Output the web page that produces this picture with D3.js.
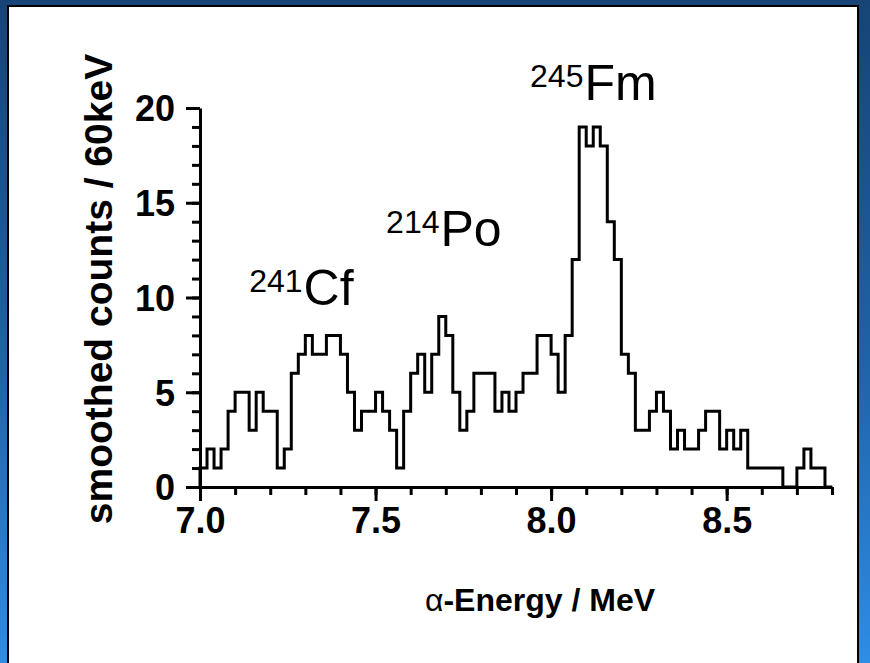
<!DOCTYPE html>
<html>
<head>
<meta charset="utf-8">
<script src="https://cdn.jsdelivr.net/npm/d3@7"></script>
<style>
  html, body { margin: 0; padding: 0; }
  body { width: 870px; height: 663px; overflow: hidden; }
  svg { display: block; }
</style>
</head>
<body>
<div id="chart"></div>
<script>
// histogram: 20 keV bins starting at 7.00 MeV, smoothed counts per 60 keV
const binStart = 7.0;
const binWidth = 0.02;
const counts = [
  1, 2, 1, 2, 4, 5, 5, 3, 5, 4,
  4, 1, 2, 6, 7, 8, 7, 7, 8, 8,
  7, 5, 3, 4, 4, 5, 4, 3, 1, 4,
  6, 7, 5, 7, 9, 8, 5, 3, 4, 6,
  6, 6, 4, 5, 4, 5, 6, 6, 8, 8,
  7, 5, 8, 12, 19, 18, 19, 18, 14, 12,
  7, 6, 3, 3, 4, 5, 4, 2, 3, 2,
  2, 3, 4, 4, 2, 3, 2, 3, 1, 1,
  1, 1, 1, 0, 0, 1, 2, 1, 1, 0
];
const xMajorTicks = [7.0, 7.5, 8.0, 8.5];
const yMajorTicks = [0, 5, 10, 15, 20];
const peakLabels = [
  { mass: "241", name: "Cf", e: 7.14, v: 9.6 },
  { mass: "214", name: "Po", e: 7.53, v: 12.7 },
  { mass: "245", name: "Fm", e: 7.94, v: 20.4 }
];

const width = 870, height = 663;
const font = "'Liberation Sans', Arial, Helvetica, sans-serif";

const svg = d3.select("#chart").append("svg")
    .attr("width", width)
    .attr("height", height);

// blue frame behind the white slide panel
const defs = svg.append("defs");
const grad = defs.append("linearGradient")
    .attr("id", "frame")
    .attr("x1", 0).attr("y1", 0).attr("x2", 0).attr("y2", 1);
grad.append("stop").attr("offset", "0%").attr("stop-color", "#164476");
grad.append("stop").attr("offset", "55%").attr("stop-color", "#1f63a8");
grad.append("stop").attr("offset", "100%").attr("stop-color", "#2e8de6");

svg.append("rect")
    .attr("width", width).attr("height", height)
    .attr("fill", "url(#frame)");

svg.append("rect")
    .attr("x", 8).attr("y", 6)
    .attr("width", 850).attr("height", 670)
    .attr("fill", "#fff")
    .attr("stroke", "#000")
    .attr("stroke-width", 2);

const x = d3.scaleLinear().domain([7.0, 8.8]).range([200, 832]);
const y = d3.scaleLinear().domain([0, 20]).range([487, 108]);

const g = svg.append("g");

// minor ticks
g.append("g")
    .attr("transform", `translate(0,${y(0)})`)
    .call(d3.axisBottom(x).ticks(18).tickSize(8).tickSizeOuter(0).tickFormat(""))
    .call(a => a.select(".domain").remove());
g.append("g")
    .attr("transform", `translate(${x(7.0)},0)`)
    .call(d3.axisLeft(y).ticks(20).tickSize(8).tickSizeOuter(0).tickFormat(""))
    .call(a => a.select(".domain").remove());

// major ticks + labels
const xAxis = g.append("g")
    .attr("transform", `translate(0,${y(0)})`)
    .call(d3.axisBottom(x).tickValues(xMajorTicks).tickSize(14).tickSizeOuter(0)
        .tickPadding(6).tickFormat(d3.format(".1f")));
const yAxis = g.append("g")
    .attr("transform", `translate(${x(7.0)},0)`)
    .call(d3.axisLeft(y).tickValues(yMajorTicks).tickSize(14).tickSizeOuter(0)
        .tickPadding(11));

g.selectAll(".tick line").attr("stroke", "#000").attr("stroke-width", 3);
g.selectAll(".domain").attr("stroke", "#000").attr("stroke-width", 3);
g.selectAll(".tick text")
    .attr("fill", "#000")
    .style("font-family", font)
    .style("font-weight", "bold")
    .style("font-size", "36px");
yAxis.selectAll(".tick text").attr("dy", "0.36em");

// histogram steps
const steps = counts.map((c, i) => [binStart + i * binWidth, c]);
steps.push([binStart + counts.length * binWidth, counts[counts.length - 1]]);
const line = d3.line()
    .curve(d3.curveStepAfter)
    .x(d => x(d[0]))
    .y(d => y(d[1]));
g.append("path")
    .datum([[binStart, 0]].concat(steps))
    .attr("d", line)
    .attr("fill", "none")
    .attr("stroke", "#000")
    .attr("stroke-width", 3)
    .attr("stroke-linejoin", "miter");

// peak annotations: small mass number raised before the element symbol
const ann = g.selectAll(".peak")
    .data(peakLabels)
    .join("text")
    .attr("class", "peak")
    .attr("x", d => x(d.e))
    .attr("y", d => y(d.v))
    .style("font-family", font)
    .style("font-size", "50px");
ann.append("tspan")
    .attr("dy", -13)
    .style("font-size", "32px")
    .text(d => d.mass);
ann.append("tspan")
    .attr("dy", 13)
    .attr("dx", 1)
    .text(d => d.name);

// axis titles
svg.append("text")
    .attr("x", 540)
    .attr("y", 611)
    .attr("text-anchor", "middle")
    .style("font-family", font)
    .style("font-weight", "bold")
    .style("font-size", "32px")
    .call(t => {
        t.append("tspan").style("font-weight", "normal").text("α");
        t.append("tspan").text("-Energy / MeV");
    });

svg.append("text")
    .attr("transform", "translate(112,289) rotate(-90)")
    .attr("text-anchor", "middle")
    .style("font-family", font)
    .style("font-weight", "bold")
    .style("font-size", "39px")
    .text("smoothed counts / 60keV");
</script>
</body>
</html>
